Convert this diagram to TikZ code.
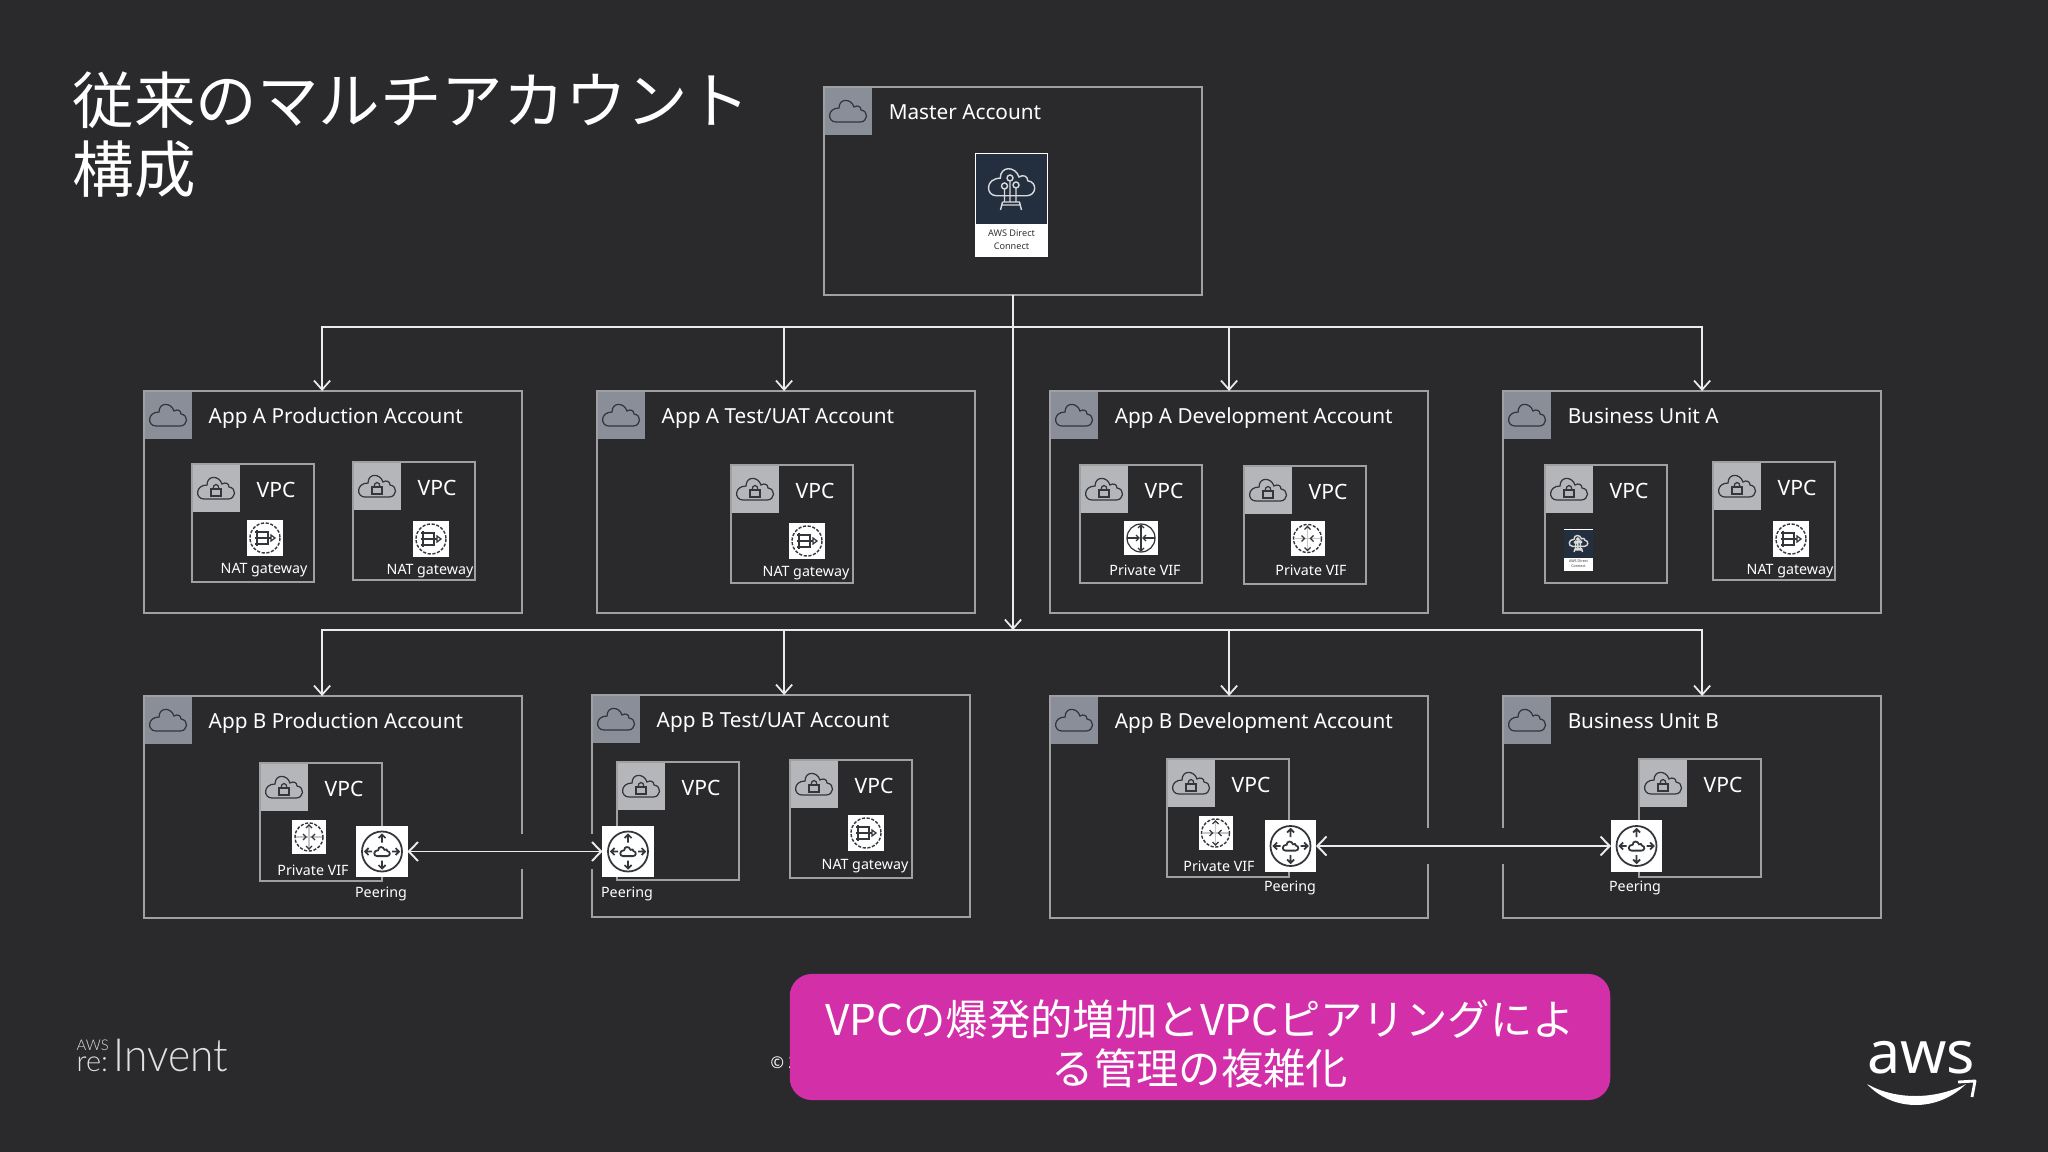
\documentclass[tikz,border=0pt]{standalone}
\usepackage{fontspec}
\setmainfont{Noto Sans}
\newfontfamily\cjk{Noto Sans CJK JP}
\newfontfamily\logofont{Lato Light}
\usetikzlibrary{arrows.meta}
\definecolor{slide}{HTML}{2A2A2C}
\definecolor{edge}{HTML}{A0A0A0}
\definecolor{accgray}{HTML}{8A8E98}
\definecolor{vpcgray}{HTML}{B5B6BA}
\definecolor{iconink}{HTML}{33363C}
\definecolor{dxblue}{HTML}{232F3E}
\definecolor{callout}{HTML}{D22FA8}
\newcommand{\cloudpath}{(-12,11) -- (12,11) .. controls (20,11) and (21,0) .. (13,-1) .. controls (13,-5) and (9,-6) .. (6,-4) .. controls (3,-13) and (-9,-13) .. (-9,-3) .. controls (-21,-3) and (-21,11) .. (-12,11) -- cycle}
\tikzset{
	ink/.style={draw=iconink, line width=0.35pt},
	dashedink/.style={draw=iconink, line width=0.4pt, dash pattern=on 0.9pt off 0.45pt},
	pics/cloud/.style={code={\draw[ink] \cloudpath;}},
	pics/lockcloud/.style={code={
		\draw[ink] \cloudpath;
		\draw[ink] (-5,1) rectangle (5,8);
		\draw[ink] (-3,1) .. controls (-3,-5) and (3,-5) .. (3,1);
	}},
	account/.style={draw=edge, line width=0.55pt, anchor=north west, inner sep=0, outer sep=0, minimum width=3.78cm, minimum height=2.22cm,
		path picture={
			\fill[accgray] (path picture bounding box.north west) rectangle ([xshift=0.48cm, yshift=-0.48cm]path picture bounding box.north west);
			\pic at ([xshift=0.24cm, yshift=-0.24cm]path picture bounding box.north west) {cloud};
		}},
	vpc/.style={draw=edge, line width=0.55pt, anchor=north west, inner sep=0, outer sep=0, minimum width=1.22cm, minimum height=1.18cm,
		path picture={
			\fill[vpcgray] (path picture bounding box.north west) rectangle ([xshift=0.48cm, yshift=-0.48cm]path picture bounding box.north west);
			\pic at ([xshift=0.24cm, yshift=-0.24cm]path picture bounding box.north west) {lockcloud};
		}},
	acctitle/.style={text=white, anchor=base west, inner sep=0, font=\fontsize{5.9}{7}\selectfont, xshift=0.64cm, yshift=-0.32cm},
	vpctitle/.style={text=white, inner sep=0, font=\fontsize{6}{7}\selectfont, xshift=0.84cm, yshift=-0.26cm},
	small/.style={text=white, inner sep=0, font=\fontsize{4.05}{5}\selectfont, yshift=-0.012cm},
	iconbox/.style={fill=white, inner sep=0, outer sep=0},
	link/.style={draw=white!92!black, line width=0.5pt, -{Straight Barb[length=2.6pt, width=4.6pt]}},
	peerlink/.style={draw=white!92!black, line width=0.55pt, {Straight Barb[length=2.6pt, width=5.4pt]}-{Straight Barb[length=2.6pt, width=5.4pt]}},
	halo/.style={draw=slide, line width=0.35cm},
	pics/nat/.style={code={
		\node[iconbox, minimum size=0.36cm] (-box) {};
		\draw[dashedink] (0,0) circle (15);
		\draw[ink] (-8,-8) -- (-8,8) (-10,-6) -- (3,-6) -- (3,6) -- (-10,6) (-10,0) -- (6,0);
		\draw[ink] (6,-3) -- (10,0) -- (6,3) -- cycle;
	}},
	pics/vif/.style={code={
		\node[iconbox, minimum size=0.34cm] (-box) {};
		\draw[draw=gray!45, line width=0.3pt] (-13,0) -- (13,0) (0,-13) -- (0,13);
		\draw[dashedink] (0,0) circle (14);
		\draw[ink] (-6,-3) -- (-3,0) -- (-6,3) (6,-3) -- (3,0) -- (6,3) (-3,-9) -- (0,-12) -- (3,-9) (-3,9) -- (0,12) -- (3,9);
	}},
	pics/router/.style={code={
		\node[iconbox, minimum size=0.34cm] (-box) {};
		\draw[ink] (0,0) circle (14);
		\draw[ink] (-14,0) -- (-2,0) (14,0) -- (2,0) (0,-13) -- (0,13);
		\draw[ink] (-5,-3) -- (-2,0) -- (-5,3) (5,-3) -- (2,0) -- (5,3) (-3,-10) -- (0,-13) -- (3,-10) (-3,10) -- (0,13) -- (3,10);
	}},
	pics/peering/.style={code={
		\node[iconbox, minimum size=0.51cm] (-box) {};
		\draw[draw=iconink, line width=0.5pt] (0,0) circle (20);
		\draw[draw=iconink, line width=0.5pt] (0,-9) -- (0,-17) (-3.5,-13.5) -- (0,-17) -- (3.5,-13.5) (0,9) -- (0,17) (-3.5,13.5) -- (0,17) -- (3.5,13.5) (-10,0) -- (-17,0) (-13.5,-3.5) -- (-17,0) -- (-13.5,3.5) (10,0) -- (17,0) (13.5,-3.5) -- (17,0) -- (13.5,3.5);
		\draw[draw=iconink, line width=0.5pt, scale=0.42] \cloudpath;
	}},
	pics/dx/.style={code={
		\node[iconbox, transform shape, minimum width=0.73cm, minimum height=1.04cm] (-box) {};
		\fill[dxblue] (-35.5,-51) rectangle (35.5,19);
		\draw[draw=white!85!black, line width=0.4pt, shift={(0,-23)}, scale=1.25] \cloudpath;
		\draw[draw=white!85!black, line width=0.4pt] (-1.5,-24) -- (-1.5,-3) (-7,-16) -- (-7,-3) (4.5,-17) -- (4.5,-3) (-1.5,-27) circle (3) (-7,-19) circle (3) (4.5,-20) circle (3) (-9,-3) -- (8,-3) -- (10,5) (-9,-3) -- (-11,5) (-10,0) -- (9,0);
		\node[transform shape, text=black!80, align=center, inner sep=0, font=\bfseries\fontsize{2.6}{3.6}\selectfont] (-label) at (0,35) {AWS Direct\\Connect};
	}},
}
\begin{document}
\begin{tikzpicture}[x=0.01cm, y=-0.01cm]
	\fill[slide] (0,0) rectangle (2048,1152);
	\useasboundingbox (0,0) rectangle (2048,1152);
	\node[text=white, anchor=north west, align=left, inner sep=0, font=\cjk\fontsize{17.5}{19.6}\selectfont] (title) at (72,71) {従来のマルチアカウント\\構成};
	\node[account, minimum height=2.08cm, minimum width=3.78cm] (master) at (824,87) {};
	\node[acctitle] (masterT) at (master.north west) {Master Account};
	\node[account] (prodA) at (144,391) {};
	\node[acctitle] (prodAT) at (prodA.north west) {App A Production Account};
	\node[account] (testA) at (597,391) {};
	\node[acctitle] (testAT) at (testA.north west) {App A Test/UAT Account};
	\node[account] (devA) at (1050,391) {};
	\node[acctitle] (devAT) at (devA.north west) {App A Development Account};
	\node[account] (unitA) at (1503,391) {};
	\node[acctitle] (unitAT) at (unitA.north west) {Business Unit A};
	\node[account] (prodB) at (144,696) {};
	\node[acctitle] (prodBT) at (prodB.north west) {App B Production Account};
	\node[account] (testB) at (592,695) {};
	\node[acctitle] (testBT) at (testB.north west) {App B Test/UAT Account};
	\node[account] (devB) at (1050,696) {};
	\node[acctitle] (devBT) at (devB.north west) {App B Development Account};
	\node[account] (unitB) at (1503,696) {};
	\node[acctitle] (unitBT) at (unitB.north west) {Business Unit B};
	\node[vpc] (vpcA1) at (192,464) {};
	\node[vpctitle] (vpcA1T) at (vpcA1.north west) {VPC};
	\node[vpc] (vpcA2) at (353,462) {};
	\node[vpctitle] (vpcA2T) at (vpcA2.north west) {VPC};
	\node[vpc] (vpcA3) at (731,465) {};
	\node[vpctitle] (vpcA3T) at (vpcA3.north west) {VPC};
	\node[vpc] (vpcA4) at (1080,465) {};
	\node[vpctitle] (vpcA4T) at (vpcA4.north west) {VPC};
	\node[vpc] (vpcA5) at (1244,466) {};
	\node[vpctitle] (vpcA5T) at (vpcA5.north west) {VPC};
	\node[vpc] (vpcA6) at (1545,465) {};
	\node[vpctitle] (vpcA6T) at (vpcA6.north west) {VPC};
	\node[vpc] (vpcA7) at (1713,462) {};
	\node[vpctitle] (vpcA7T) at (vpcA7.north west) {VPC};
	\node[vpc] (vpcB1) at (260,763) {};
	\node[vpctitle] (vpcB1T) at (vpcB1.north west) {VPC};
	\node[vpc] (vpcB2) at (617,762) {};
	\node[vpctitle] (vpcB2T) at (vpcB2.north west) {VPC};
	\node[vpc] (vpcB3) at (790,760) {};
	\node[vpctitle] (vpcB3T) at (vpcB3.north west) {VPC};
	\node[vpc] (vpcB4) at (1167,759) {};
	\node[vpctitle] (vpcB4T) at (vpcB4.north west) {VPC};
	\node[vpc] (vpcB5) at (1639,759) {};
	\node[vpctitle] (vpcB5T) at (vpcB5.north west) {VPC};
	\pic (dxM) at (1011.5,205) {dx};
	\pic[scale=0.4] (dxA) at (1578.5,550) {dx};
	\pic (natA1) at (265,538) {nat};
	\node[small] (natA1T) at (264,569) {NAT gateway};
	\pic (natA2) at (431,539) {nat};
	\node[small] (natA2T) at (430,570) {NAT gateway};
	\pic (natA3) at (807,541) {nat};
	\node[small] (natA3T) at (806,572) {NAT gateway};
	\pic (natA7) at (1791,539) {nat};
	\node[small] (natA7T) at (1790,570) {NAT gateway};
	\pic (natB3) at (866,833) {nat};
	\node[small] (natB3T) at (865,865) {NAT gateway};
	\pic (vifA4) at (1141,538) {router};
	\node[small] (vifA4T) at (1145,569) {Private VIF};
	\pic (vifA5) at (1307.5,538.5) {vif};
	\node[small] (vifA5T) at (1311,569) {Private VIF};
	\pic (vifB1) at (309,837) {vif};
	\node[small] (vifB1T) at (313,869) {Private VIF};
	\pic (vifB4) at (1215.5,833) {vif};
	\node[small] (vifB4T) at (1219,865) {Private VIF};
	\pic (peerA) at (382,851.5) {peering};
	\node[small] (peerAT) at (381,893) {Peering};
	\pic (peerB) at (628,851.5) {peering};
	\node[small] (peerBT) at (627,893) {Peering};
	\pic (peerC) at (1290.5,846) {peering};
	\node[small] (peerCT) at (1290,887) {Peering};
	\pic (peerD) at (1636.5,846) {peering};
	\node[small] (peerDT) at (1635,887) {Peering};
	\draw[halo] (peerA-box.east) -- (peerB-box.west);
	\draw[halo] (peerC-box.east) -- (peerD-box.west);
	\draw[peerlink] (peerA-box.east) -- (peerB-box.west);
	\draw[peerlink] (peerC-box.east) -- (peerD-box.west);
	\coordinate (busA) at (1013,327);
	\coordinate (busB) at (1013,630);
	\draw[link] (master.south) -- (busB);
	\draw[link] (busA) -| ([xshift=-0.11cm]prodA.north);
	\draw[link] (busA) -| ([xshift=-0.02cm]testA.north);
	\draw[link] (busA) -| ([xshift=-0.10cm]devA.north);
	\draw[link] (busA) -| ([xshift=0.10cm]unitA.north);
	\draw[link] (busB) -| ([xshift=-0.11cm]prodB.north);
	\draw[link] (busB) -| ([xshift=0.03cm]testB.north);
	\draw[link] (busB) -| ([xshift=-0.10cm]devB.north);
	\draw[link] (busB) -| ([xshift=0.10cm]unitB.north);
	\node[text=white, anchor=west, inner sep=0, font=\fontsize{4.6}{5}\selectfont] (copy) at (770,1063) {© 2};
	\node[fill=callout, rounded corners=0.22cm, minimum width=8.2cm, minimum height=1.26cm, inner sep=0] (note) at (1200,1037) {};
	\node[align=center, text=white, inner sep=0, yshift=-0.07cm, font=\cjk\fontsize{12.05}{13.8}\selectfont] (noteT) at (note) {VPCの爆発的増加とVPCピアリングによ\\る管理の複雑化};
	\node[text=white!88!black, anchor=base west, inner sep=0, xscale=0.93, font=\logofont\fontsize{13}{14}\selectfont] (invent) at (113,1071) {Invent};
	\node[text=white!88!black, anchor=base west, inner sep=0, font=\logofont\fontsize{8.2}{9}\selectfont] (re) at (76,1071) {re:};
	\node[text=white!88!black, anchor=base west, inner sep=0, font=\logofont\fontsize{4.2}{5}\selectfont] (aws) at (76,1050) {AWS};
	\node[text=white, anchor=base, inner sep=0, font=\fontsize{16.8}{18}\selectfont] (awslogo) at (1921,1073) {aws};
	\fill[white] (1867,1084) .. controls (1895,1100) and (1935,1100) .. (1966,1084) .. controls (1938,1112) and (1893,1112) .. cycle;
	\draw[white, line width=0.8pt, line join=round] (1958,1082) -- (1975,1081) -- (1972,1097);
\end{tikzpicture}
\end{document}
